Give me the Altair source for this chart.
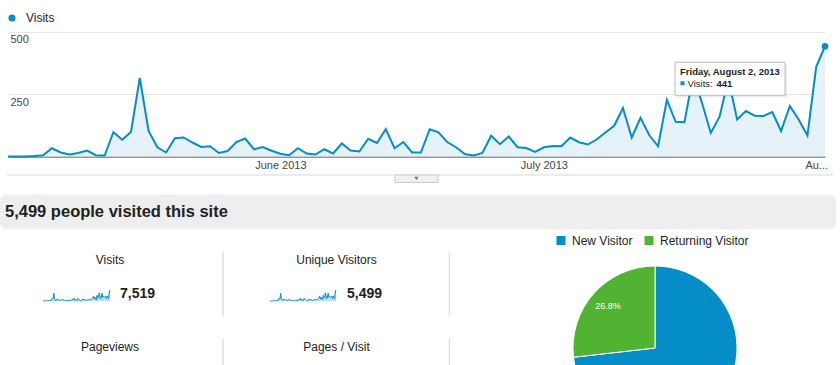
import altair as alt
import pandas as pd

FONT = "Liberation Sans"
BLUE = "#058dc7"
GREEN = "#50b432"

# ---- data -----------------------------------------------------------------
first_day = "2013-05-01"
visits = [
    0, 0, 0, 2, 5, 33, 16, 8, 14, 24,
    5, 4, 97, 67, 98, 314, 102, 37, 16, 73,
    76, 56, 38, 41, 14, 22, 58, 72, 29, 38,
    23, 11, 5, 33, 12, 8, 29, 12, 52, 24,
    20, 71, 54, 110, 33, 58, 16, 16, 109, 97,
    58, 37, 10, 4, 14, 83, 49, 80, 37, 34,
    18, 37, 42, 41, 76, 57, 48, 68, 96, 123,
    194, 76, 155, 85, 41, 227, 139, 137, 325, 214,
    94, 159, 310, 148, 182, 163, 162, 178, 102, 202,
    148, 84, 359, 441,
]
month_ticks = [(2013, 6, 1), (2013, 7, 1), (2013, 8, 1)]
month_labels = ["June 2013", "July 2013", "Au..."]
y_ticks = [0, 250, 500]

banner_text = "5,499 people visited this site"
metric_names = ["Visits", "Unique Visitors", "Pageviews", "Pages / Visit"]
metric_totals = ["7,519", "5,499"]
visitor_types = ["New Visitor", "Returning Visitor"]
visitor_share = [73.2, 26.8]

# ---- tables ----------------------------------------------------------------
dates = pd.date_range(first_day, periods=len(visits), freq="D")
df = pd.DataFrame({"date": dates.strftime("%Y-%m-%d"), "visits": visits, "series": "Visits"})
last = df.iloc[[-1]].copy()
d = dates[-1]
last["tip"] = f"{d.strftime('%A')}, {d.strftime('%B')} {d.day}, {d.year}"
last["tip_label"] = "Visits:"

one = alt.Data(values=[{"k": 0}])

label_expr = " : ".join(
    f"utcmonth(datum.value) == {m - 1} ? '{lab}'" for (yy, m, dd), lab in zip(month_ticks, month_labels)
) + " : ''"

x_enc = alt.X(
    "date:T",
    scale=alt.Scale(type="utc", range=[8, 825], nice=False),
    axis=alt.Axis(
        values=[alt.DateTime(year=yy, month=m, date=dd, utc=True) for yy, m, dd in month_ticks],
        labelExpr=label_expr, orient="bottom", offset=-38.5, grid=False, ticks=False,
        domainColor="#444444", labelColor="#444444", labelFontSize=11, labelPadding=3,
        labelFlush=False, labelOverlap=False, title=None, minExtent=0,
    ),
)
y_enc = alt.Y(
    "visits:Q",
    scale=alt.Scale(domain=[0, 500], range=[156.5, 31.5], nice=False),
    axis=alt.Axis(
        values=y_ticks, ticks=False, domain=False, grid=True, gridColor="#e6e6e6",
        labelAlign="left", labelBaseline="top", labelPadding=-10, labelOffset=2,
        labelExpr="datum.value == 0 ? '' : datum.label", labelColor="#444444",
        labelFontSize=11, title=None, minExtent=0,
    ),
)

area = alt.Chart(df).mark_area(color="#e6f2fa").encode(x=x_enc, y=y_enc)
line = alt.Chart(df).mark_line(color=BLUE, strokeWidth=2).encode(x=x_enc, y=y_enc)
dot = alt.Chart(last).mark_point(filled=True, size=45, opacity=1).encode(
    x=x_enc, y=y_enc,
    color=alt.Color(
        "series:N", scale=alt.Scale(domain=["Visits"], range=[BLUE]),
        legend=alt.Legend(orient="none", legendX=6, legendY=12, title=None, symbolType="circle",
                          symbolSize=50, symbolStrokeWidth=0, labelFontSize=12, labelColor="#222222",
                          labelOffset=8, padding=0),
    ),
)
tip_shadow = alt.Chart(last).mark_rect(
    fill="#000000", opacity=0.08, xOffset=-148, x2Offset=-38, yOffset=18, y2Offset=51
).encode(x=x_enc, x2=alt.X2("date"), y=y_enc, y2=alt.Y2("visits"))
tip_box = alt.Chart(last).mark_rect(
    fill="white", stroke="#bbbbbb", strokeWidth=1, xOffset=-150, x2Offset=-40, yOffset=16, y2Offset=49
).encode(x=x_enc, x2=alt.X2("date"), y=y_enc, y2=alt.Y2("visits"))
tip_title = alt.Chart(last).mark_text(
    align="left", baseline="middle", dx=-145, dy=26, fontSize=9.5, fontWeight="bold", color="#222222"
).encode(x=x_enc, y=y_enc, text="tip:N")
tip_sq = alt.Chart(last).mark_square(size=16, color=BLUE, opacity=1, xOffset=-142.5, yOffset=37).encode(
    x=x_enc, y=y_enc)
tip_lab = alt.Chart(last).mark_text(
    align="left", baseline="middle", dx=-137.5, dy=37.5, fontSize=9.5, color="#222222"
).encode(x=x_enc, y=y_enc, text="tip_label:N")
tip_val = alt.Chart(last).mark_text(
    align="left", baseline="middle", dx=-108.5, dy=37.5, fontSize=9.5, fontWeight="bold", color="#222222"
).encode(x=x_enc, y=y_enc, text="visits:Q")

sep_line = alt.Chart(one).mark_rule(color="#d9d9d9").encode(
    x=alt.value(7), x2=alt.value(833), y=alt.value(175))
tab = alt.Chart(one).mark_rect(fill="#f0f0f0", stroke="#cccccc", strokeWidth=1).encode(
    x=alt.value(395), x2=alt.value(438), y=alt.value(175), y2=alt.value(182.5))
tab_arrow = alt.Chart(one).mark_point(shape="triangle-down", filled=True, color="#777777", size=18,
                                      opacity=1).encode(x=alt.value(416.5), y=alt.value(178.5))

row1 = alt.layer(area, line, dot, tip_shadow, tip_box, tip_title, tip_sq, tip_lab, tip_val,
                 sep_line, tab, tab_arrow).properties(width=840, height=195)

# ---- banner ----------------------------------------------------------------
row2 = alt.Chart(alt.Data(values=[{"t": banner_text}])).mark_text(
    align="left", baseline="middle", fontSize=16.5, fontWeight="bold", color="#222222"
).encode(x=alt.value(5), y=alt.value(17), text="t:N").properties(
    width=836, height=34, view=alt.ViewBackground(fill="#eeeeee", cornerRadius=6, strokeWidth=0))

# ---- metric panels ---------------------------------------------------------
metric_df = pd.DataFrame({"name": metric_names,
                          "col": [i % 2 for i in range(len(metric_names))],
                          "row": [i // 2 for i in range(len(metric_names))]})
totals_df = pd.DataFrame({"value": metric_totals, "col": [0, 1], "row": [0, 0]})
div_df = pd.DataFrame({"edge": [1, 2, 1, 2], "row": [0, 0, 1, 1]})

titles = alt.Chart(metric_df).mark_text(fontSize=12, color="#222222", baseline="middle").encode(
    x=alt.X("col:Q", scale=alt.Scale(domain=[0, 1], range=[110, 336.5], nice=False), axis=None),
    y=alt.Y("row:Q", scale=alt.Scale(domain=[0, 1], range=[31, 118], nice=False), axis=None),
    text="name:N")
numbers = alt.Chart(totals_df).mark_text(align="left", baseline="middle", fontSize=14,
                                         fontWeight="bold", color="#222222").encode(
    x=alt.X("col:Q", scale=alt.Scale(domain=[0, 1], range=[120, 347], nice=False), axis=None),
    y=alt.Y("row:Q", scale=alt.Scale(domain=[0, 1], range=[64.5, 151.5], nice=False), axis=None),
    text="value:N")
dividers = alt.Chart(div_df).mark_rule(color="#dedede", strokeWidth=1.5, y2Offset=64, clip=True).encode(
    x=alt.X("edge:Q", scale=alt.Scale(domain=[1, 2], range=[223, 449.5], nice=False), axis=None),
    y=alt.Y("row:Q", scale=alt.Scale(domain=[0, 1], range=[23, 110], nice=False), axis=None),
    y2=alt.Y2("row"))


def spark(x_range):
    sx = alt.X("date:T", scale=alt.Scale(type="utc", range=x_range, nice=False), axis=None)
    sy = alt.Y("visits:Q", scale=alt.Scale(domain=[0, max(visits)], range=[72, 61], nice=False), axis=None)
    a = alt.Chart(df).mark_area(color="#bfdff2").encode(x=sx, y=sy)
    l = alt.Chart(df).mark_line(color=BLUE, strokeWidth=1).encode(x=sx, y=sy)
    return alt.layer(a, l)


left = alt.layer(titles, spark([43, 110]), spark([270, 336]), numbers, dividers).resolve_scale(
    x="independent", y="independent").properties(width=450, height=136)

# ---- pie -------------------------------------------------------------------
pie_df = pd.DataFrame({"type": visitor_types, "share": visitor_share,
                       "idx": list(range(len(visitor_types))),
                       "label": [f"{v}%" for v in visitor_share]})
theta_scale = alt.Scale(domain=[0, sum(visitor_share)])
arc = alt.Chart(pie_df).mark_arc(radius=82, stroke="white", strokeWidth=1, clip=True).encode(
    theta=alt.Theta("share:Q", stack=True, scale=theta_scale),
    color=alt.Color("type:N", scale=alt.Scale(domain=visitor_types, range=[BLUE, GREEN]),
                    legend=alt.Legend(orient="none", legendX=105, legendY=5.5, direction="horizontal",
                                      title=None, symbolType="square", symbolSize=81,
                                      symbolStrokeWidth=0, labelFontSize=12, labelColor="#222222",
                                      labelOffset=5, columnPadding=10, padding=0)),
    order=alt.Order("idx:Q"),
    x=alt.value(205), y=alt.value(119))
# label of the slice that is visible inside the cropped panel (the other lies below the page)
arc_text = alt.Chart(pie_df).transform_stack(
    stack="share", as_=["s0", "s1"], groupby=[], sort=[alt.SortField("idx", order="ascending")]
).transform_calculate(mid="(datum.s0 + datum.s1) / 2").transform_filter(
    "datum.idx == 1"
).mark_text(radius=63, color="white", fontSize=9, clip=True).encode(
    theta=alt.Theta("mid:Q", stack=False, scale=theta_scale), text="label:N",
    x=alt.value(205), y=alt.value(119))
pie = alt.layer(arc, arc_text).properties(width=390, height=136)

row3 = alt.hconcat(left, pie, spacing=0).resolve_scale(color="independent").resolve_legend(
    color="independent")

chart = alt.vconcat(row1, row2, row3, spacing=0).resolve_scale(color="independent").resolve_legend(
    color="independent").properties(padding=0, background="white"
).configure(font=FONT).configure_view(strokeWidth=0)

chart.save("out.html", embed_options={"renderer": "svg", "actions": False})
